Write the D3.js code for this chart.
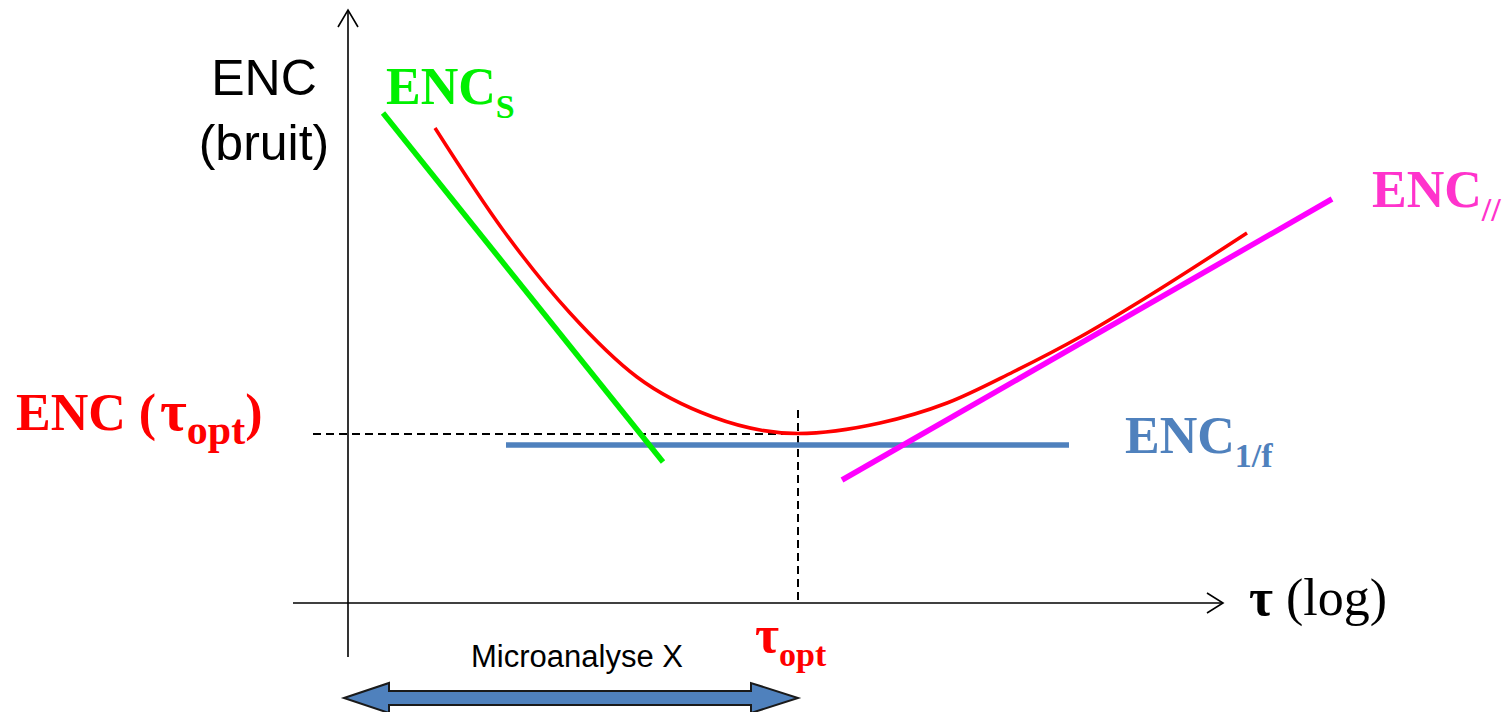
<!DOCTYPE html>
<html>
<head>
<meta charset="utf-8">
<script src="https://cdn.jsdelivr.net/npm/d3@7"></script>
<style>
  body { margin: 0; background: #fff; }
  svg { display: block; }
</style>
</head>
<body>
<div id="chart"></div>
<script>
var width = 1504;
var height = 712;

// schematic values, tau (log) on x, ENC on y
var encS = [[0.35, 4.90], [3.15, 1.41]];
var enc1f = [[1.58, 1.58], [7.21, 1.58]];
var encPar = [[4.94, 1.23], [9.84, 4.04]];
var encTotal = [
    [0.87, 4.75], [1.55, 3.73], [2.22, 2.90], [2.89, 2.26], [3.65, 1.86],
    [4.50, 1.695], [5.32, 1.80], [5.99, 2.00], [6.65, 2.31], [7.32, 2.66],
    [7.99, 3.06], [8.99, 3.70]
];
var tauOpt = 4.50;
var encOpt = 1.69;
var xAxisSpan = [-0.55, 8.75];
var yAxisSpan = [-0.54, 5.93];
var microRange = [-0.04, 4.50];

var x = d3.scaleLinear().domain([0, 10]).range([348, 1348]);
var y = d3.scaleLinear().domain([0, 6]).range([603, 3]);

var svg = d3.select('#chart').append('svg')
    .attr('width', width)
    .attr('height', height);

var line = d3.line()
    .x(function (d) { return x(d[0]); })
    .y(function (d) { return y(d[1]); });

// axes
svg.append('line')
    .attr('x1', x(0)).attr('x2', x(0))
    .attr('y1', y(yAxisSpan[0])).attr('y2', y(yAxisSpan[1]))
    .attr('stroke', '#000').attr('stroke-width', 1.6);
svg.append('path')
    .attr('d', 'M' + (x(0) - 10) + ',' + (y(yAxisSpan[1]) + 17) + 'L' + x(0) + ',' + y(yAxisSpan[1]) +
               'L' + (x(0) + 10) + ',' + (y(yAxisSpan[1]) + 17))
    .attr('fill', 'none').attr('stroke', '#000').attr('stroke-width', 1.6);

svg.append('line')
    .attr('x1', x(xAxisSpan[0])).attr('x2', x(xAxisSpan[1]))
    .attr('y1', y(0)).attr('y2', y(0))
    .attr('stroke', '#000').attr('stroke-width', 1.6);
svg.append('path')
    .attr('d', 'M' + (x(xAxisSpan[1]) - 16) + ',' + (y(0) - 10) + 'L' + x(xAxisSpan[1]) + ',' + y(0) +
               'L' + (x(xAxisSpan[1]) - 16) + ',' + (y(0) + 10))
    .attr('fill', 'none').attr('stroke', '#000').attr('stroke-width', 1.6);

// dashed guides at tau_opt
svg.append('line')
    .attr('x1', x(-0.35)).attr('x2', x(tauOpt + 0.07))
    .attr('y1', y(encOpt)).attr('y2', y(encOpt))
    .attr('stroke', '#000').attr('stroke-width', 2)
    .attr('stroke-dasharray', '8,5');
svg.append('line')
    .attr('x1', x(tauOpt)).attr('x2', x(tauOpt))
    .attr('y1', y(encOpt + 0.24)).attr('y2', y(0))
    .attr('stroke', '#000').attr('stroke-width', 2)
    .attr('stroke-dasharray', '8,5');

// noise components
svg.append('path').datum(enc1f)
    .attr('d', line).attr('fill', 'none')
    .attr('stroke', '#4f81bd').attr('stroke-width', 5.5);
svg.append('path').datum(encS)
    .attr('d', line).attr('fill', 'none')
    .attr('stroke', '#00f000').attr('stroke-width', 5.5);
svg.append('path').datum(encPar)
    .attr('d', line).attr('fill', 'none')
    .attr('stroke', '#ff00ff').attr('stroke-width', 5.5);
svg.append('path').datum(encTotal)
    .attr('d', line.curve(d3.curveMonotoneX)).attr('fill', 'none')
    .attr('stroke', '#ff0000').attr('stroke-width', 3.5);

// double arrow (Microanalyse X)
var ax0 = x(microRange[0]), ax1 = x(microRange[1]), ay = 698;
svg.append('path')
    .attr('d', 'M' + ax0 + ',' + ay +
               'L' + (ax0 + 45) + ',' + (ay - 15) + 'L' + (ax0 + 45) + ',' + (ay - 7) +
               'L' + (ax1 - 47) + ',' + (ay - 7) + 'L' + (ax1 - 47) + ',' + (ay - 15) +
               'L' + ax1 + ',' + ay +
               'L' + (ax1 - 47) + ',' + (ay + 15) + 'L' + (ax1 - 47) + ',' + (ay + 7) +
               'L' + (ax0 + 45) + ',' + (ay + 7) + 'L' + (ax0 + 45) + ',' + (ay + 15) + 'Z')
    .attr('fill', '#4f81bd').attr('stroke', '#1a1a1a').attr('stroke-width', 2);

// labels
var serif = 'Liberation Serif, Times New Roman, serif';
var sans = 'Liberation Sans, Arial, sans-serif';

svg.append('text')
    .attr('x', 577).attr('y', 667)
    .attr('text-anchor', 'middle')
    .attr('font-family', sans)
    .attr('font-size', 31)
    .attr('fill', '#000')
    .text('Microanalyse X');

svg.append('text')
    .attr('x', 264).attr('y', 95)
    .attr('text-anchor', 'middle')
    .attr('font-family', sans).attr('font-size', 50)
    .text('ENC');
svg.append('text')
    .attr('x', 264).attr('y', 160)
    .attr('text-anchor', 'middle')
    .attr('font-family', sans).attr('font-size', 50)
    .text('(bruit)');

function subLabel(px, py, main, sub, color, subSize) {
    var t = svg.append('text')
        .attr('x', px).attr('y', py)
        .attr('font-family', serif).attr('font-weight', 'bold')
        .attr('font-size', 52).attr('fill', color);
    t.append('tspan').text(main);
    t.append('tspan').attr('font-size', subSize || 34).attr('dy', 14).text(sub);
    return t;
}

subLabel(386, 104, 'ENC', 'S', '#00f000');
subLabel(1372, 207, 'ENC', '//', '#ff33cc');
subLabel(1125, 453, 'ENC', '1/f', '#4f81bd');
subLabel(755, 652, '\u03c4', 'opt', '#ff0000');

var lo = svg.append('text')
    .attr('x', 16).attr('y', 430)
    .attr('font-family', serif).attr('font-weight', 'bold')
    .attr('font-size', 52).attr('fill', '#ff0000');
lo.append('tspan').text('ENC (');
lo.append('tspan').attr('dx', 4).attr('font-size', 58).text('\u03c4');
lo.append('tspan').attr('font-size', 42).attr('dy', 14).text('opt');
lo.append('tspan').attr('dy', -14).text(')');

var tl = svg.append('text')
    .attr('x', 1249).attr('y', 615)
    .attr('font-family', serif).attr('font-size', 52).attr('fill', '#000');
tl.append('tspan').attr('font-weight', 'bold').text('\u03c4');
tl.append('tspan').text(' (log)');
</script>
</body>
</html>
